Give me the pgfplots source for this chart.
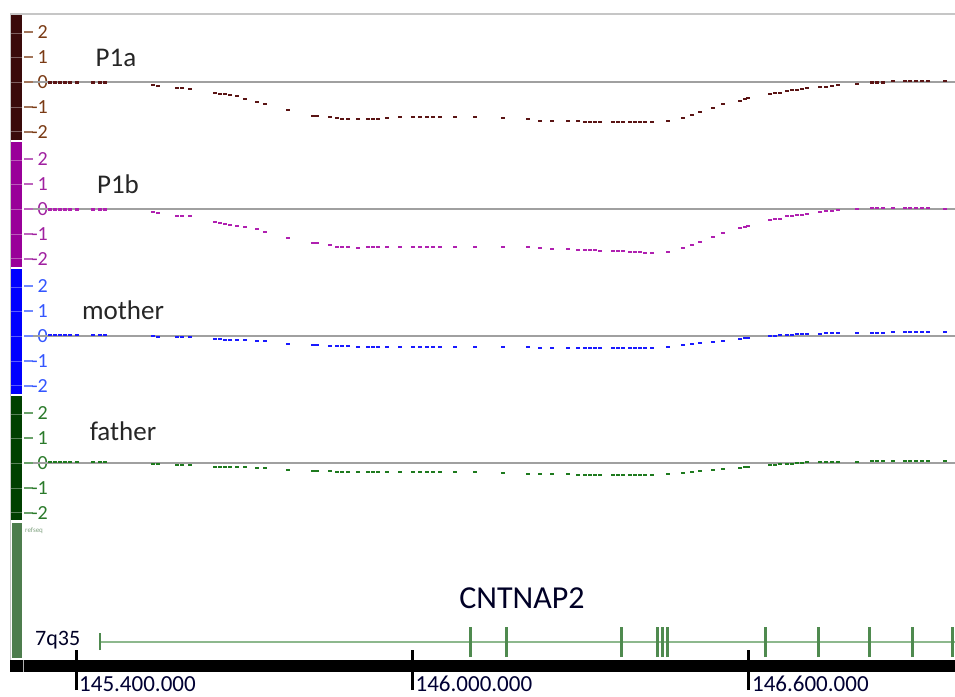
\documentclass[border=0pt]{standalone}
\usepackage{pgfplots}
\pgfplotsset{compat=1.18}
\usepackage{pgfplotstable}
\usepackage{fontspec}
\setmainfont{Carlito}
\definecolor{c1bar}{HTML}{3A0A0A}
\definecolor{c1pt}{HTML}{5A1414}
\definecolor{c1lab}{HTML}{7A3A14}
\definecolor{c2bar}{HTML}{990099}
\definecolor{c2pt}{HTML}{B020B0}
\definecolor{c2lab}{HTML}{A020A0}
\definecolor{c3bar}{HTML}{0000FF}
\definecolor{c3pt}{HTML}{1A1AFF}
\definecolor{c3lab}{HTML}{3355FF}
\definecolor{c4bar}{HTML}{004000}
\definecolor{c4pt}{HTML}{1E7A1E}
\definecolor{c4lab}{HTML}{2A7A2A}
\definecolor{refbar}{HTML}{4D7D4D}
\definecolor{exon}{HTML}{4F8A4F}
\definecolor{geneline}{HTML}{8DB88D}
\definecolor{zl}{HTML}{A0A0A0}

\pgfplotstableread{
x a b m f
145.3536 -0.02 -0.02 0.04 0.04
145.3626 -0.02 -0.02 0.04 0.04
145.3715 -0.02 -0.02 0.04 0.04
145.3804 -0.02 -0.02 0.04 0.04
145.3893 -0.02 -0.02 0.04 0.04
145.4018 -0.02 -0.02 0.04 0.04
145.4303 -0.02 -0.02 0.04 0.04
145.4428 -0.02 -0.02 0.04 0.04
145.4517 -0.02 -0.02 0.04 0.04
145.5373 -0.12 -0.12 0 -0.04
145.5462 -0.16 -0.16 -0.04 -0.04
145.5801 -0.24 -0.28 -0.04 -0.08
145.5890 -0.24 -0.28 -0.04 -0.08
145.6033 -0.28 -0.28 -0.04 -0.08
145.6479 -0.44 -0.52 -0.12 -0.16
145.6568 -0.48 -0.56 -0.12 -0.16
145.6657 -0.48 -0.60 -0.16 -0.16
145.6746 -0.52 -0.64 -0.16 -0.16
145.6871 -0.56 -0.68 -0.16 -0.16
145.7014 -0.68 -0.72 -0.16 -0.16
145.7228 -0.80 -0.80 -0.20 -0.20
145.7370 -0.88 -0.92 -0.20 -0.20
145.7781 -1.12 -1.16 -0.32 -0.28
145.8226 -1.36 -1.36 -0.36 -0.32
145.8298 -1.36 -1.36 -0.36 -0.32
145.8530 -1.40 -1.44 -0.40 -0.32
145.8654 -1.44 -1.52 -0.40 -0.36
145.8744 -1.48 -1.52 -0.40 -0.36
145.8851 -1.48 -1.52 -0.40 -0.36
145.9029 -1.48 -1.56 -0.44 -0.36
145.9207 -1.48 -1.52 -0.44 -0.36
145.9296 -1.48 -1.52 -0.44 -0.36
145.9386 -1.48 -1.52 -0.44 -0.36
145.9546 -1.44 -1.52 -0.44 -0.36
145.9778 -1.40 -1.52 -0.44 -0.36
146.0010 -1.40 -1.52 -0.44 -0.36
146.0135 -1.40 -1.52 -0.44 -0.36
146.0259 -1.40 -1.52 -0.44 -0.36
146.0366 -1.40 -1.52 -0.44 -0.36
146.0491 -1.40 -1.52 -0.44 -0.36
146.0759 -1.40 -1.52 -0.44 -0.36
146.1115 -1.40 -1.52 -0.44 -0.36
146.1615 -1.44 -1.52 -0.44 -0.40
146.2061 -1.48 -1.52 -0.44 -0.44
146.2275 -1.56 -1.56 -0.48 -0.44
146.2489 -1.56 -1.60 -0.48 -0.44
146.2774 -1.56 -1.60 -0.48 -0.44
146.2952 -1.56 -1.64 -0.48 -0.48
146.3077 -1.60 -1.64 -0.48 -0.48
146.3166 -1.60 -1.64 -0.48 -0.48
146.3255 -1.60 -1.64 -0.48 -0.48
146.3345 -1.60 -1.68 -0.48 -0.48
146.3576 -1.60 -1.68 -0.48 -0.48
146.3666 -1.60 -1.68 -0.48 -0.48
146.3755 -1.60 -1.68 -0.48 -0.48
146.3880 -1.60 -1.72 -0.48 -0.48
146.3969 -1.60 -1.72 -0.48 -0.48
146.4058 -1.60 -1.72 -0.48 -0.48
146.4147 -1.60 -1.76 -0.48 -0.48
146.4272 -1.60 -1.76 -0.48 -0.48
146.4557 -1.56 -1.72 -0.44 -0.44
146.4825 -1.44 -1.56 -0.36 -0.40
146.4985 -1.32 -1.44 -0.32 -0.36
146.5128 -1.20 -1.32 -0.28 -0.32
146.5360 -1.04 -1.12 -0.24 -0.28
146.5538 -0.88 -0.96 -0.20 -0.24
146.5841 -0.76 -0.76 -0.12 -0.20
146.5930 -0.68 -0.72 -0.08 -0.16
146.5984 -0.64 -0.68 -0.08 -0.16
146.6376 -0.48 -0.44 0 -0.08
146.6465 -0.44 -0.40 0 -0.08
146.6554 -0.44 -0.40 0.04 -0.04
146.6679 -0.36 -0.28 0.04 -0.04
146.6768 -0.32 -0.28 0.04 -0.04
146.6858 -0.32 -0.24 0.08 0
146.6947 -0.28 -0.24 0.08 0
146.7036 -0.24 -0.20 0.08 0.04
146.7268 -0.20 -0.12 0.08 0.04
146.7375 -0.20 -0.08 0.12 0.04
146.7482 -0.16 -0.08 0.12 0.04
146.7589 -0.12 -0.04 0.12 0.04
146.7928 -0.08 0 0.12 0.04
146.8195 -0.02 0.04 0.12 0.08
146.8284 -0.02 0.04 0.12 0.08
146.8391 -0.02 0.04 0.12 0.08
146.8570 0.04 0.04 0.16 0.08
146.8784 0.04 0.04 0.16 0.08
146.8873 0.04 0.04 0.16 0.08
146.8980 0.04 0.04 0.16 0.08
146.9087 0.04 0.04 0.16 0.08
146.9194 0.04 0.04 0.16 0.08
146.9497 0.04 0 0.16 0.08
}\probes

\pgfplotsset{
  track/.style={
    width=922pt, height=125pt, scale only axis, anchor=north west,
    xmin=145.3233, xmax=146.9675, ymin=-2.32, ymax=2.68,
    axis line style={draw=none}, xtick=\empty,
    ytick={-2,-1,0,1,2}, yticklabels={-2,-1,0,1,2}, ytick pos=left,
    tick align=outside, major tick length=9pt,
    yticklabel style={font=\fontsize{20}{20}\selectfont, anchor=east, inner sep=0pt, xshift=24pt},
  },
  pts/.style={only marks, mark=-, mark size=1.6pt, mark options={line width=2.2pt, draw=#1}},
}

\begin{document}
\begin{tikzpicture}
\begin{scope}[x=1pt,y=1pt]
\fill[white] (0,0) rectangle (955,696);
\draw[gray!45, line width=1.5pt] (10,682) -- (955,682);
\draw[gray!45, line width=1pt] (10,682) -- (10,24);
\fill[c1bar] (11,681) rectangle (22,556);
\fill[c2bar] (11,554) rectangle (22,429);
\fill[c3bar] (11,427) rectangle (22,302);
\fill[c4bar] (11,300) rectangle (22,176);
\fill[refbar] (12,173) rectangle (22,38);
\foreach \z in {614,487,360,233}{
  \foreach \d in {-49,-25,0,25,49}{
    \draw[white, opacity=0.35, line width=0.8pt] (11,\z+\d) -- (22,\z+\d);
  }
}
\fill[black] (10,36) rectangle (955,24);
\draw[gray!60, line width=1pt] (23,36) -- (23,24);
\end{scope}

% track 1
\begin{axis}[track, at={(33pt,681pt)}, y tick style={draw=c1lab!70, line width=1.5pt}, yticklabel style={text=c1lab}]
\addplot[zl, line width=1.6pt, forget plot] coordinates {(145.3233,0) (146.9675,0)};
\addplot[pts=c1pt] table[x=x,y=a] {\probes};
\end{axis}
% track 2
\begin{axis}[track, at={(33pt,554pt)}, y tick style={draw=c2lab!70, line width=1.5pt}, yticklabel style={text=c2lab}]
\addplot[zl, line width=1.6pt, forget plot] coordinates {(145.3233,0) (146.9675,0)};
\addplot[pts=c2pt] table[x=x,y=b] {\probes};
\end{axis}
% track 3
\begin{axis}[track, at={(33pt,427pt)}, y tick style={draw=c3lab!70, line width=1.5pt}, yticklabel style={text=c3lab}]
\addplot[zl, line width=1.6pt, forget plot] coordinates {(145.3233,0) (146.9675,0)};
\addplot[pts=c3pt] table[x=x,y=m] {\probes};
\end{axis}
% track 4
\begin{axis}[track, at={(33pt,300pt)}, y tick style={draw=c4lab!70, line width=1.5pt}, yticklabel style={text=c4lab}]
\addplot[zl, line width=1.6pt, forget plot] coordinates {(145.3233,0) (146.9675,0)};
\addplot[pts=c4pt] table[x=x,y=f] {\probes};
\end{axis}

% refseq track and coordinate axis
\begin{axis}[at={(33pt,26pt)}, anchor=south west, width=922pt, height=147pt, scale only axis,
  xmin=145.3233, xmax=146.9675, ymin=0, ymax=147,
  axis line style={draw=none}, ytick=\empty,
  xtick={145.4,146.0,146.6}, xticklabels={145.400.000,146.000.000,146.600.000},
  xtick pos=bottom, tick align=center, major tick length=40pt,
  x tick style={black, line width=3pt},
  xticklabel style={anchor=north west, inner sep=0pt, font=\fontsize{23}{23}\selectfont, text=black!80!blue, xshift=3pt, yshift=14pt},
  clip=false]
\addplot[geneline, line width=1.3pt] coordinates {(145.4428,28) (146.9675,28)};
\addplot[exon, line width=2pt] coordinates {(145.4428,20) (145.4428,37)};
\addplot[exon, line width=3pt, unbounded coords=jump] coordinates {
(146.1026,13) (146.1026,43) (nan,nan)
(146.1668,13) (146.1668,43) (nan,nan)
(146.3719,13) (146.3719,43) (nan,nan)
(146.4361,13) (146.4361,43) (nan,nan)
(146.4450,13) (146.4450,43) (nan,nan)
(146.4539,13) (146.4539,43) (nan,nan)
(146.6287,13) (146.6287,43) (nan,nan)
(146.7232,13) (146.7232,43) (nan,nan)
(146.8142,13) (146.8142,43) (nan,nan)
(146.8908,13) (146.8908,43) (nan,nan)
(146.9622,13) (146.9622,43)
};
\node[font=\fontsize{32}{32}\selectfont, text=black!85!blue] at (axis cs:146.1954,72) {CNTNAP2};
\end{axis}

\begin{scope}[x=1pt,y=1pt]
\node[font=\fontsize{27}{27}\selectfont, text=black!85] at (116,638) {P1a};
\node[font=\fontsize{27}{27}\selectfont, text=black!85] at (118,512) {P1b};
\node[font=\fontsize{27}{27}\selectfont, text=black!85] at (123,386) {mother};
\node[font=\fontsize{27}{27}\selectfont, text=black!85] at (123,265) {father};
\node[font=\fontsize{22}{22}\selectfont, text=black!85!blue, anchor=west, inner sep=0pt] at (35,56) {7q35};
\node[font=\fontsize{7}{7}\selectfont, text=refbar!70, anchor=west, inner sep=0pt] at (25,165) {refseq};
\end{scope}
\pgfresetboundingbox
\path[use as bounding box] (0pt,0pt) rectangle (955pt,696pt);
\end{tikzpicture}
\end{document}
